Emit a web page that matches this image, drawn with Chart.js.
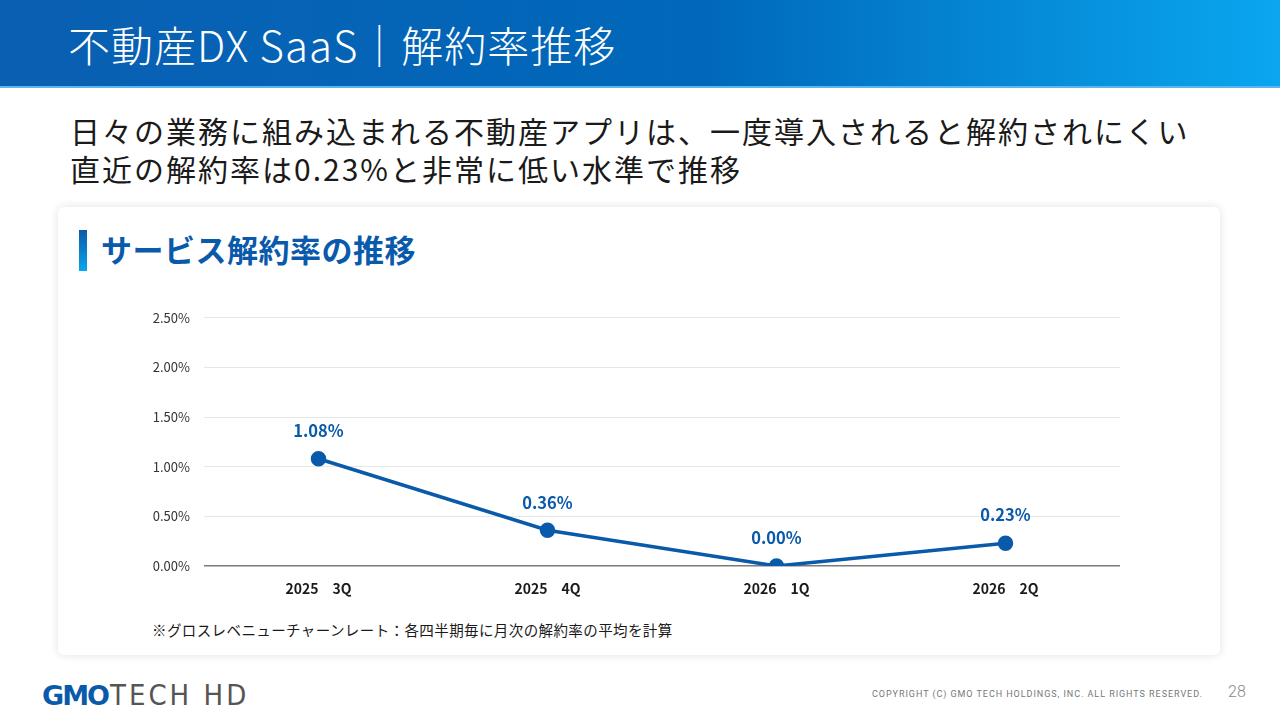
<!DOCTYPE html>
<html lang="ja">
<head>
<meta charset="utf-8">
<script src="https://cdn.jsdelivr.net/npm/chart.js@4.4.1/dist/chart.umd.min.js"></script>
<style>
  html, body { margin: 0; padding: 0; }
  body {
    width: 1280px; height: 720px; position: relative; overflow: hidden;
    background: #ffffff;
    font-family: "Noto Sans CJK JP", "Noto Sans", sans-serif;
  }
  .header {
    position: absolute; left: 0; top: 0; width: 1280px; height: 86px;
    background: linear-gradient(90deg, #0a5fb2 0%, #0068ba 55%, #0aa6ef 100%);
    border-bottom: 2px solid #5cb6ee;
  }
  .header h1 {
    margin: 0; position: absolute; left: 68px; top: 15px;
    color: #fff; font-size: 42px; font-weight: 300; letter-spacing: 1px;
    line-height: 58px;
  }
  .lead {
    position: absolute; left: 70px; top: 111px; color: #1a1a1a;
    font-size: 30px; font-weight: 400; line-height: 38px; letter-spacing: 2px;
  }
  .card {
    position: absolute; left: 58px; top: 207px; width: 1162px; height: 448px;
    background: #fff; border-radius: 6px;
    box-shadow: 0 0 10px rgba(0,0,0,0.12);
  }
  .card-bar {
    position: absolute; left: 79px; top: 230px; width: 8px; height: 41px;
    background: linear-gradient(180deg, #0a5aab 0%, #0aa6ef 100%);
  }
  .card-title {
    position: absolute; left: 101px; top: 228px; color: #0a5aab;
    font-size: 31px; font-weight: 700; line-height: 42px; letter-spacing: 0.5px;
  }
  #chartWrap { position: absolute; left: 140px; top: 296px; width: 990px; height: 310px; }
  .note {
    position: absolute; left: 152px; top: 619px; color: #1a1a1a; font-size: 14.5px; letter-spacing: 0.4px;
  }
  .logo {
    position: absolute; left: 42px; top: 679px; font-size: 29px; line-height: 32px;
    font-family: "Liberation Sans Narrow", "DejaVu Sans Condensed", sans-serif;
  }
  .logo b { color: #0a5aab; font-family: "DejaVu Sans", sans-serif; font-weight: 700; letter-spacing: -2px; font-size: 27px; }
  .logo span { color: #555; letter-spacing: 3px; margin-left: 2px; }
  .copy {
    position: absolute; left: 872px; top: 689px; color: #777; font-size: 9px; letter-spacing: 0.95px;
    font-family: "Roboto", sans-serif;
  }
  .page { position: absolute; left: 1228px; top: 682px; color: #888; font-size: 16px; font-family: "Roboto", sans-serif; font-weight: 300; }
</style>
</head>
<body>
<div class="header"><h1>不動産DX SaaS｜解約率推移</h1></div>
<div class="lead">日々の業務に組み込まれる不動産アプリは、一度導入されると解約されにくい<br>直近の解約率は0.23%と非常に低い水準で推移</div>
<div class="card"></div>
<div class="card-bar"></div>
<div class="card-title">サービス解約率の推移</div>
<div id="chartWrap"><canvas id="churnChart"></canvas></div>
<div class="note">※グロスレベニューチャーンレート：各四半期毎に月次の解約率の平均を計算</div>
<div class="logo"><b>GMO</b><span>TECH HD</span></div>
<div class="copy">COPYRIGHT (C) GMO TECH HOLDINGS, INC. ALL RIGHTS RESERVED.</div>
<div class="page">28</div>

<script>
// 四半期ラベルと解約率（%）
const quarters = ['2025　3Q', '2025　4Q', '2026　1Q', '2026　2Q'];
const churnRates = [1.08, 0.36, 0.00, 0.23];
const yTicks = [0, 0.5, 1.0, 1.5, 2.0, 2.5];

const lineColor = '#0a5aab';

// 点の上に値ラベルを描く
const valueLabels = {
    id: 'valueLabels',
    afterDatasetsDraw(chart) {
        const ctx = chart.ctx;
        const meta = chart.getDatasetMeta(0);
        ctx.save();
        ctx.fillStyle = lineColor;
        ctx.font = 'bold 16.5px "Noto Sans CJK JP", sans-serif';
        ctx.textAlign = 'center';
        ctx.textBaseline = 'middle';
        meta.data.forEach((pt, i) => {
            ctx.fillText(churnRates[i].toFixed(2) + '%', pt.x, pt.y - 28);
        });
        ctx.restore();
    }
};

const ctx = document.getElementById('churnChart').getContext('2d');
new Chart(ctx, {
    type: 'line',
    data: {
        labels: quarters,
        datasets: [{
            data: churnRates,
            borderColor: lineColor,
            backgroundColor: lineColor,
            borderWidth: 3.5,
            pointRadius: 6,
            pointHoverRadius: 6,
            pointBackgroundColor: lineColor,
            tension: 0,
            fill: false
        }]
    },
    options: {
        responsive: true,
        maintainAspectRatio: false,
        animation: false,
        layout: { padding: { top: 20, right: 10, left: 0, bottom: 0 } },
        plugins: {
            legend: { display: false },
            tooltip: { enabled: false }
        },
        scales: {
            x: {
                offset: true,
                grid: { display: false, drawTicks: false },
                border: { display: false },
                ticks: {
                    color: '#1a1a1a',
                    padding: 14,
                    font: { family: '"Noto Sans CJK JP", sans-serif', size: 14, weight: 'bold' }
                },
                afterFit: (scale) => { scale.height = 40; }
            },
            y: {
                min: 0,
                max: 2.5,
                afterBuildTicks: (scale) => { scale.ticks = yTicks.map(v => ({ value: v })); },
                grid: {
                    color: (c) => c.tick && c.tick.value === 0 ? '#7a7a7a' : '#e6e6e6',
                    lineWidth: (c) => c.tick && c.tick.value === 0 ? 1.5 : 1,
                    drawTicks: false
                },
                border: { display: false },
                ticks: {
                    color: '#333',
                    padding: 14,
                    font: { family: '"Noto Sans CJK JP", sans-serif', size: 13 },
                    callback: (v) => Number(v).toFixed(2) + '%'
                },
                afterFit: (scale) => { scale.width = 64; }
            }
        }
    },
    plugins: [valueLabels]
});
</script>
</body>
</html>
